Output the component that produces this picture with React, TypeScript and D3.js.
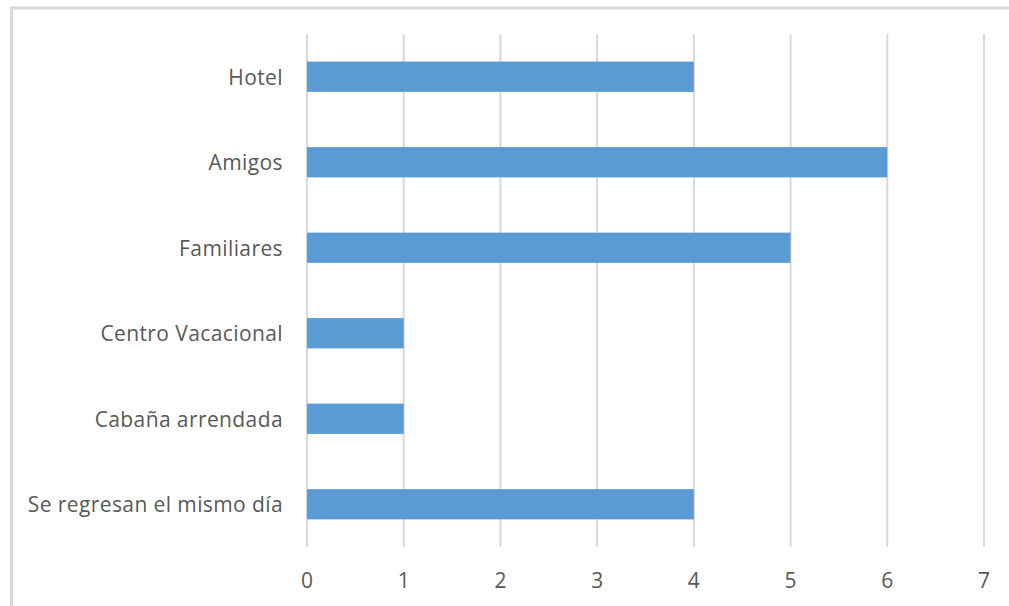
import React from "react";
import * as d3 from "d3";

const categories = [
  "Hotel",
  "Amigos",
  "Familiares",
  "Centro Vacacional",
  "Cabaña arrendada",
  "Se regresan el mismo día",
];
const values = [4, 6, 5, 1, 1, 4];
const xTicks = [0, 1, 2, 3, 4, 5, 6, 7];

const W = 1009;
const H = 606;
const plot = { left: 307, right: 984, top: 34, bottom: 547 };

export default function App() {
  const x = d3.scaleLinear().domain([0, 7]).range([plot.left, plot.right]);
  const y = d3
    .scaleBand<string>()
    .domain(categories)
    .range([plot.top, plot.bottom])
    .paddingInner(0.646)
    .paddingOuter(0.323);
  const font = "'Open Sans', 'Liberation Sans', sans-serif";
  return (
    <svg
      width={W}
      height={H}
      style={{ position: "absolute", left: 0, top: 0, background: "#fff" }}
    >
      <rect x={0} y={0} width={W} height={H} fill="#fff" />
      <rect
        x={11.5}
        y={8}
        width={W + 20}
        height={H + 20}
        fill="none"
        stroke="#d9d9d9"
        strokeWidth={3}
      />
      {xTicks.map((t) => (
        <line
          key={"g" + t}
          x1={x(t)}
          x2={x(t)}
          y1={plot.top}
          y2={plot.bottom}
          stroke="#d9d9d9"
          strokeWidth={2}
        />
      ))}
      {categories.map((c, i) => (
        <rect
          key={"b" + c}
          x={x(0)}
          y={y(c)}
          width={x(values[i]) - x(0)}
          height={y.bandwidth()}
          fill="#5b9bd5"
        />
      ))}
      {categories.map((c) => (
        <text
          key={"l" + c}
          x={plot.left - 24}
          y={(y(c) as number) + y.bandwidth() / 2}
          textAnchor="end"
          dominantBaseline="central"
          fontFamily={font}
          fontSize={21}
          letterSpacing={0.4}
          fill="#595959"
        >
          {c}
        </text>
      ))}
      {xTicks.map((t) => (
        <text
          key={"t" + t}
          x={x(t)}
          y={580}
          textAnchor="middle"
          dominantBaseline="central"
          fontFamily={font}
          fontSize={21}
          fill="#595959"
        >
          {t}
        </text>
      ))}
    </svg>
  );
}
